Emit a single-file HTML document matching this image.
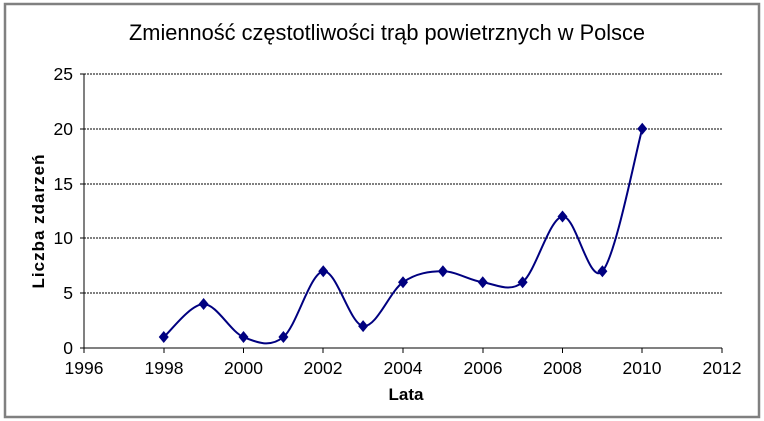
<!DOCTYPE html>
<html><head><meta charset="utf-8"><style>
html,body{margin:0;padding:0;background:#fff;}
svg{display:block;font-family:"Liberation Sans",Arial,sans-serif;}
</style></head><body>
<svg width="764" height="421" viewBox="0 0 764 421">
<rect x="0" y="0" width="764" height="421" fill="#fff"/>
<rect x="5" y="4" width="754" height="413" fill="none" stroke="#808080" stroke-width="2.5"/>
<text x="387" y="40" text-anchor="middle" font-size="21.8" fill="#000">Zmienność częstotliwości trąb powietrznych w Polsce</text>
<g stroke="#000" stroke-width="1" stroke-dasharray="2,1">
<line x1="84" y1="74" x2="722" y2="74"/>
<line x1="84" y1="129" x2="722" y2="129"/>
<line x1="84" y1="184" x2="722" y2="184"/>
<line x1="84" y1="238" x2="722" y2="238"/>
<line x1="84" y1="293" x2="722" y2="293"/>
</g>
<g stroke="#000" stroke-width="1">
<line x1="84" y1="74" x2="84" y2="348"/>
<line x1="84" y1="348" x2="722" y2="348"/>
<line x1="80" y1="74" x2="84" y2="74"/><line x1="80" y1="129" x2="84" y2="129"/><line x1="80" y1="184" x2="84" y2="184"/><line x1="80" y1="238" x2="84" y2="238"/><line x1="80" y1="293" x2="84" y2="293"/><line x1="80" y1="348" x2="84" y2="348"/>
<line x1="84" y1="348" x2="84" y2="353"/><line x1="164" y1="348" x2="164" y2="353"/><line x1="243.5" y1="348" x2="243.5" y2="353"/><line x1="323" y1="348" x2="323" y2="353"/><line x1="403" y1="348" x2="403" y2="353"/><line x1="483" y1="348" x2="483" y2="353"/><line x1="562.5" y1="348" x2="562.5" y2="353"/><line x1="642" y1="348" x2="642" y2="353"/><line x1="722" y1="348" x2="722" y2="353"/>
</g>
<g font-size="17.5" fill="#000" text-anchor="end">
<text x="73" y="80">25</text><text x="73" y="135">20</text><text x="73" y="190">15</text><text x="73" y="244">10</text><text x="73" y="299">5</text><text x="73" y="354">0</text>
</g>
<g font-size="17.5" fill="#000" text-anchor="middle">
<text x="84" y="374">1996</text><text x="164" y="374">1998</text><text x="243.5" y="374">2000</text><text x="323" y="374">2002</text><text x="403" y="374">2004</text><text x="483" y="374">2006</text><text x="562.5" y="374">2008</text><text x="642" y="374">2010</text><text x="722" y="374">2012</text>
</g>
<text x="406" y="400" text-anchor="middle" font-size="17" font-weight="bold">Lata</text>
<text transform="translate(44,221) rotate(-90)" text-anchor="middle" font-size="17" font-weight="bold" letter-spacing="1">Liczba zdarzeń</text>
<path fill="none" stroke="#000080" stroke-width="2" d="M163.75,337.04 C170.39,331.56 190.31,304.16 203.6,304.16 C216.89,304.16 230.2,331.56 243.5,337.04 C256.8,342.52 270.11,348 283.4,337.04 C296.69,326.08 309.97,273.11 323.25,271.28 C336.53,269.45 349.81,324.25 363.1,326.08 C376.39,327.91 389.7,291.37 403,282.24 C416.3,273.11 429.61,271.28 442.9,271.28 C456.19,271.28 469.47,280.41 482.75,282.24 C496.03,284.07 509.31,293.2 522.6,282.24 C535.89,271.28 549.2,218.31 562.5,216.48 C575.8,214.65 589.11,285.89 602.4,271.28 C615.69,256.67 635.61,152.55 642.25,128.8"/>
<g fill="#000080">
<path d="M163.75,331 l5,6 l-5,6 l-5,-6z"/>
<path d="M203.6,298 l5,6 l-5,6 l-5,-6z"/>
<path d="M243.5,331 l5,6 l-5,6 l-5,-6z"/>
<path d="M283.4,331 l5,6 l-5,6 l-5,-6z"/>
<path d="M323.25,265.3 l5,6 l-5,6 l-5,-6z"/>
<path d="M363.1,320.1 l5,6 l-5,6 l-5,-6z"/>
<path d="M403,276.2 l5,6 l-5,6 l-5,-6z"/>
<path d="M442.9,265.3 l5,6 l-5,6 l-5,-6z"/>
<path d="M482.75,276.2 l5,6 l-5,6 l-5,-6z"/>
<path d="M522.6,276.2 l5,6 l-5,6 l-5,-6z"/>
<path d="M562.5,210.5 l5,6 l-5,6 l-5,-6z"/>
<path d="M602.4,265.3 l5,6 l-5,6 l-5,-6z"/>
<path d="M642.25,122.8 l5,6 l-5,6 l-5,-6z"/>
</g>
</svg>
</body></html>
